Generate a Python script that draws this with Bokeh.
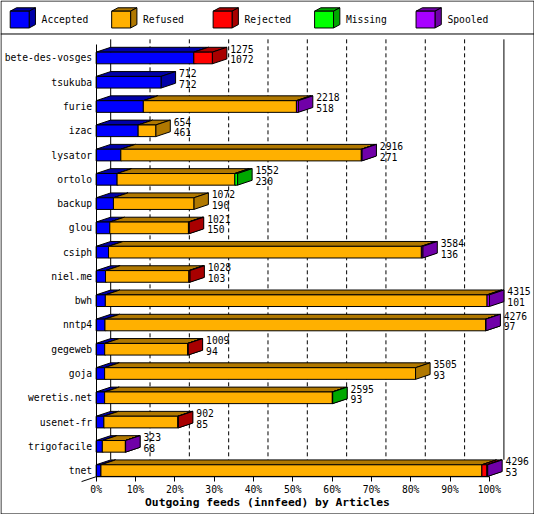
from bokeh.plotting import figure
from bokeh.models import Range1d, LinearAxis, FixedTicker
from bokeh.embed import file_html
from bokeh.resources import INLINE
from bokeh.core.properties import value

# ---------------- data ----------------
feeds = ["bete-des-vosges", "tsukuba", "furie", "izac", "lysator", "ortolo",
         "backup", "glou", "csiph", "niel.me", "bwh", "nntp4", "gegeweb",
         "goja", "weretis.net", "usenet-fr", "trigofacile", "tnet"]
offered = [1275, 712, 2218, 654, 2916, 1552, 1072, 1021, 3584, 1028,
           4315, 4276, 1009, 3505, 2595, 902, 323, 4296]
accepted = [1072, 712, 518, 461, 271, 230, 190, 150, 136, 103,
            101, 97, 94, 93, 93, 85, 68, 53]
refused = [0, 0, 1680, 193, 2639, 1292, 882, 863, 3433, 915,
           4189, 4176, 911, 3412, 2499, 812, 253, 4180]
rejected = [203, 0, 0, 0, 0, 0, 0, 8, 0, 10, 0, 0, 4, 0, 0, 5, 0, 55]
missing = [0, 0, 0, 0, 0, 30, 0, 0, 0, 0, 0, 0, 0, 0, 3, 0, 0, 0]
spooled = [0, 0, 20, 0, 6, 0, 0, 0, 15, 0, 25, 3, 0, 0, 0, 0, 2, 8]

series_names = ["Accepted", "Refused", "Rejected", "Missing", "Spooled"]
series_values = [accepted, refused, rejected, missing, spooled]
front_colors = ["#0000ff", "#ffb000", "#ff0000", "#00ff00", "#a800ff"]
dark_colors = ["#0000a8", "#b07800", "#a80000", "#00a800", "#7000a8"]

tick_pcts = [0, 10, 20, 30, 40, 50, 60, 70, 80, 90, 100]
tick_labels = ["0%", "10%", "20%", "30%", "40%", "50%", "60%", "70%", "80%", "90%", "100%"]
x_title = "Outgoing feeds (innfeed) by Articles"

# ---------------- layout helpers (reference pixel space -> data) ----------------
W, H = 534, 514
S = W / 550.0
REF_W, REF_H = W / S, H / S
X0 = 98.5          # ref px of 0 %
PX_PER_PCT = 4.05
Y0 = 59.2          # ref px of first row centre
ROW = 25.0


def X(px):
    return (px - X0) / PX_PER_PCT


def Y(py):
    return (py - Y0) / ROW


DX = 15 / PX_PER_PCT
DY = 5 / ROW
HALF = 6 / ROW
FONT = "DejaVu Sans Mono"
SMALL = "9.7px"

p = figure(width=W, height=H, output_backend="svg", toolbar_location=None,
           x_range=Range1d(X(0), X(REF_W)), y_range=Range1d(Y(REF_H), Y(0)),
           x_axis_type=None, y_axis_type=None, min_border=0,
           outline_line_color=None, background_fill_color="white",
           border_fill_color="white")

# back wall grid lines
for t in tick_pcts:
    dash = "solid" if t in (0, 100) else "4 3"
    p.segment(x0=[t + DX], y0=[Y(40)], x1=[t + DX], y1=[Y(473)],
              line_color="black", line_width=1, line_dash=dash)

# bars
max_total = max(offered)
xs, ys, fills = [], [], []
ends = []
for i in range(len(feeds)):
    yc = i
    top = yc - HALF
    bot = yc + HALF
    cum = 0.0
    for k, vals in enumerate(series_values):
        v = vals[i]
        if v <= 0:
            continue
        x0 = cum / max_total * 100
        cum += v
        x1 = cum / max_total * 100
        # top face
        xs.append([x0, x1, x1 + DX, x0 + DX])
        ys.append([top, top, top - DY, top - DY])
        fills.append(dark_colors[k])
        # side face
        xs.append([x1, x1, x1 + DX, x1 + DX])
        ys.append([top, bot, bot - DY, top - DY])
        fills.append(dark_colors[k])
        # front face
        xs.append([x0, x1, x1, x0])
        ys.append([top, top, bot, bot])
        fills.append(front_colors[k])
    ends.append(cum / max_total * 100)

p.patches(xs=xs, ys=ys, fill_color=fills, line_color="black", line_width=1)

# bottom edge of the front plane (x axis line, 0..100 %)
p.segment(x0=[0], y0=[Y(490.5)], x1=[100], y1=[Y(490.5)],
          line_color="black", line_width=1)

# value labels
lab_x = [e + DX + 3.5 / PX_PER_PCT for e in ends]
p.text(x=lab_x, y=[i - 9.5 / ROW for i in range(len(feeds))],
       text=[str(v) for v in offered], text_font=value(FONT),
       text_font_size=value(SMALL), text_align="left", text_baseline="middle",
       text_color="black")
p.text(x=lab_x, y=[i + 1.5 / ROW for i in range(len(feeds))],
       text=[str(v) for v in accepted], text_font=value(FONT),
       text_font_size=value(SMALL), text_align="left", text_baseline="middle",
       text_color="black")

# diagonal floor edge at bottom-left
p.segment(x0=[X(98.5)], y0=[Y(490.5)], x1=[X(83.5)], y1=[Y(495.5)],
          line_color="black", line_width=1)

# legend
lxs, lys, lfill = [], [], []
for k, name in enumerate(series_names):
    cx = 10 + 104.5 * k
    fx0, fx1, fy0, fy1 = X(cx), X(cx + 19.5), Y(11), Y(28.3)
    ddx, ddy = 6.5 / PX_PER_PCT, 3.5 / ROW
    lxs += [[fx0, fx1, fx1 + ddx, fx0 + ddx], [fx1, fx1, fx1 + ddx, fx1 + ddx], [fx0, fx1, fx1, fx0]]
    lys += [[fy0, fy0, fy0 - ddy, fy0 - ddy], [fy0, fy1, fy1 - ddy, fy0 - ddy], [fy0, fy0, fy1, fy1]]
    lfill += [dark_colors[k], dark_colors[k], front_colors[k]]
p.patches(xs=lxs, ys=lys, fill_color=lfill, line_color="black", line_width=1)
p.text(x=[X(42.3 + 104.5 * k) for k in range(len(series_names))],
       y=[Y(20)] * len(series_names), text=series_names, text_font=value(FONT),
       text_font_size=value(SMALL), text_align="left", text_baseline="middle",
       text_color="black")

# legend separator and outer border
p.segment(x0=[X(0)], y0=[Y(34.5)], x1=[X(REF_W)], y1=[Y(34.5)],
          line_color="black", line_width=1)
p.quad(left=[X(0.5)], right=[X(REF_W - 0.5)], top=[Y(0.5)], bottom=[Y(REF_H - 0.5)],
       fill_color=None, line_color="black", line_width=1)

# axes
yax = LinearAxis(ticker=FixedTicker(ticks=list(range(len(feeds)))),
                 major_label_overrides={i: f for i, f in enumerate(feeds)},
                 fixed_location=0, bounds=(Y(45), Y(490.5)))
yax.major_tick_out = 0
yax.major_tick_in = 0
yax.minor_tick_out = 0
yax.minor_tick_in = 0
yax.major_label_standoff = 4
yax.major_label_text_font = FONT
yax.major_label_text_font_size = SMALL
yax.major_label_text_color = "black"
yax.axis_line_color = "black"
p.add_layout(yax, "left")

# x axis: bounds widened to the left so that its (hidden-line) title is centred on the image
xax = LinearAxis(ticker=FixedTicker(ticks=tick_pcts),
                 major_label_overrides={t: l for t, l in zip(tick_pcts, tick_labels)},
                 fixed_location=Y(490.5), bounds=(2 * X(REF_W / 2) - 100, 100),
                 axis_label=x_title)
xax.major_tick_out = 5
xax.major_tick_in = 0
xax.minor_tick_out = 0
xax.minor_tick_in = 0
xax.major_label_standoff = 2
xax.major_label_text_font = FONT
xax.major_label_text_font_size = SMALL
xax.major_label_text_color = "black"
xax.axis_label_text_font = FONT
xax.axis_label_text_font_size = "11.3px"
xax.axis_label_text_font_style = "bold"
xax.axis_label_text_color = "black"
xax.axis_label_standoff = -2
xax.axis_line_color = None
p.add_layout(xax, "below")

open("out.html", "w").write(file_html(p, INLINE))
